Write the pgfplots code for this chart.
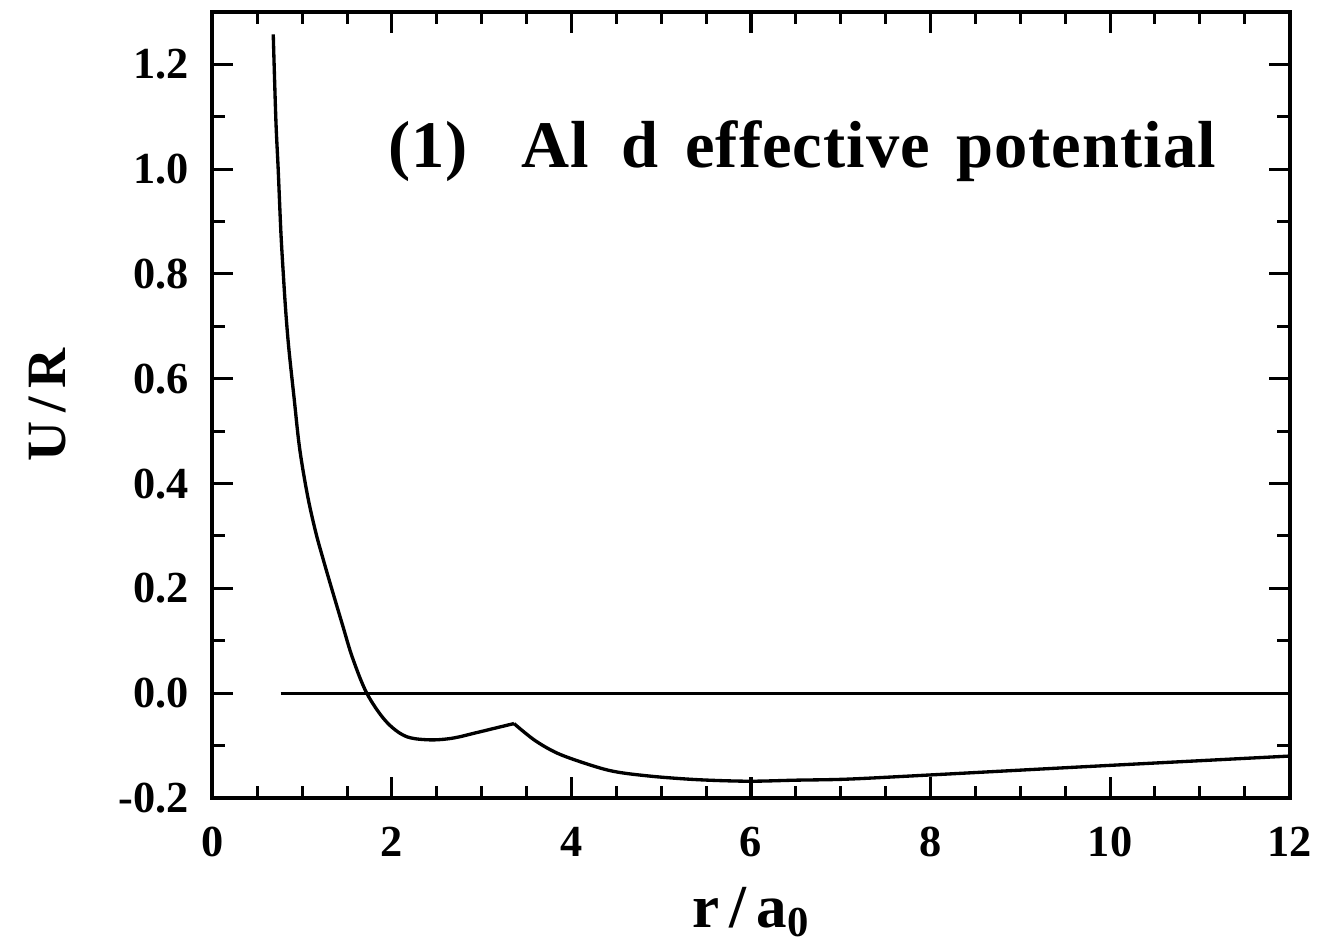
\documentclass[border=0pt]{standalone}
\usepackage{fontspec}
\setmainfont{Liberation Serif}
\usepackage{pgfplots}
\pgfplotsset{compat=1.18}
\begin{document}
\begin{tikzpicture}
\begin{axis}[
  scale only axis,
  width=388.5pt, height=283.5pt,
  xmin=0, xmax=12, ymin=-0.2, ymax=1.3,
  xtick={0,2,...,12}, ytick={-0.2,0,...,1.2},
  minor x tick num=3, minor y tick num=1,
  tick align=inside,
  major tick length=7.5pt, minor tick length=4.5pt,
  every tick/.style={line width=1.1pt, black},
  axis line style={line width=1.4pt},
  tick label style={font=\fontsize{16}{18}\selectfont\bfseries},
  /pgf/number format/assume math mode=true,
  /pgf/number format/.cd, fixed, fixed zerofill, precision=1, /pgfplots/.cd,
  xticklabel={\pgfmathprintnumber[fixed,precision=0]{\tick}},
  xticklabel style={yshift=-7pt},
  yticklabel style={xshift=-5pt},
  xlabel={r\,/\,a$_{\mathbf{0}}$},
  ylabel={U\,/\,R},
  xlabel style={font=\fontsize{22}{24}\selectfont\bfseries, yshift=-4pt},
  ylabel style={font=\fontsize{20}{22}\selectfont\bfseries, yshift=12pt},
  clip=false,
]
\addplot[line width=1.2pt, black, smooth, tension=0.55] coordinates {
(0.678,1.257) (0.707,1.095) (0.733,1.0) (0.763,0.88) (0.79,0.80) (0.818,0.727)
(0.852,0.657) (0.911,0.562) (0.972,0.467) (1.059,0.378) (1.15,0.308) (1.24,0.252)
(1.337,0.195) (1.45,0.13) (1.56,0.068) (1.72,0.0) (1.93,-0.053) (2.15,-0.082)
(2.41,-0.089) (2.67,-0.086) (2.95,-0.075) (3.19,-0.065) (3.36,-0.058)
};
\addplot[line width=1.2pt, black, smooth, tension=0.5] coordinates {
(3.36,-0.058) (3.6,-0.091) (3.89,-0.118) (4.41,-0.147)
(4.86,-0.158) (5.4,-0.165) (5.97,-0.168) (6.5,-0.166) (7.08,-0.164) (8.0,-0.156)
(9.86,-0.139) (12,-0.12)
};
\addplot[line width=1.2pt, black] coordinates {(0.76,0) (12,0)};
\node[font=\fontsize{24}{26}\selectfont\bfseries\addfontfeature{LetterSpace=1.5}, anchor=west] at (axis cs:1.85,1.034) {(1)\hspace{0.8em}Al\hspace{0.5em}d\hspace{0.4em}effective\hspace{0.4em}potential};
\end{axis}
\path (current axis.south west) ++(-76.6pt,-51pt);
\path (current axis.north east) ++(10pt,4.3pt);
\end{tikzpicture}
\end{document}
